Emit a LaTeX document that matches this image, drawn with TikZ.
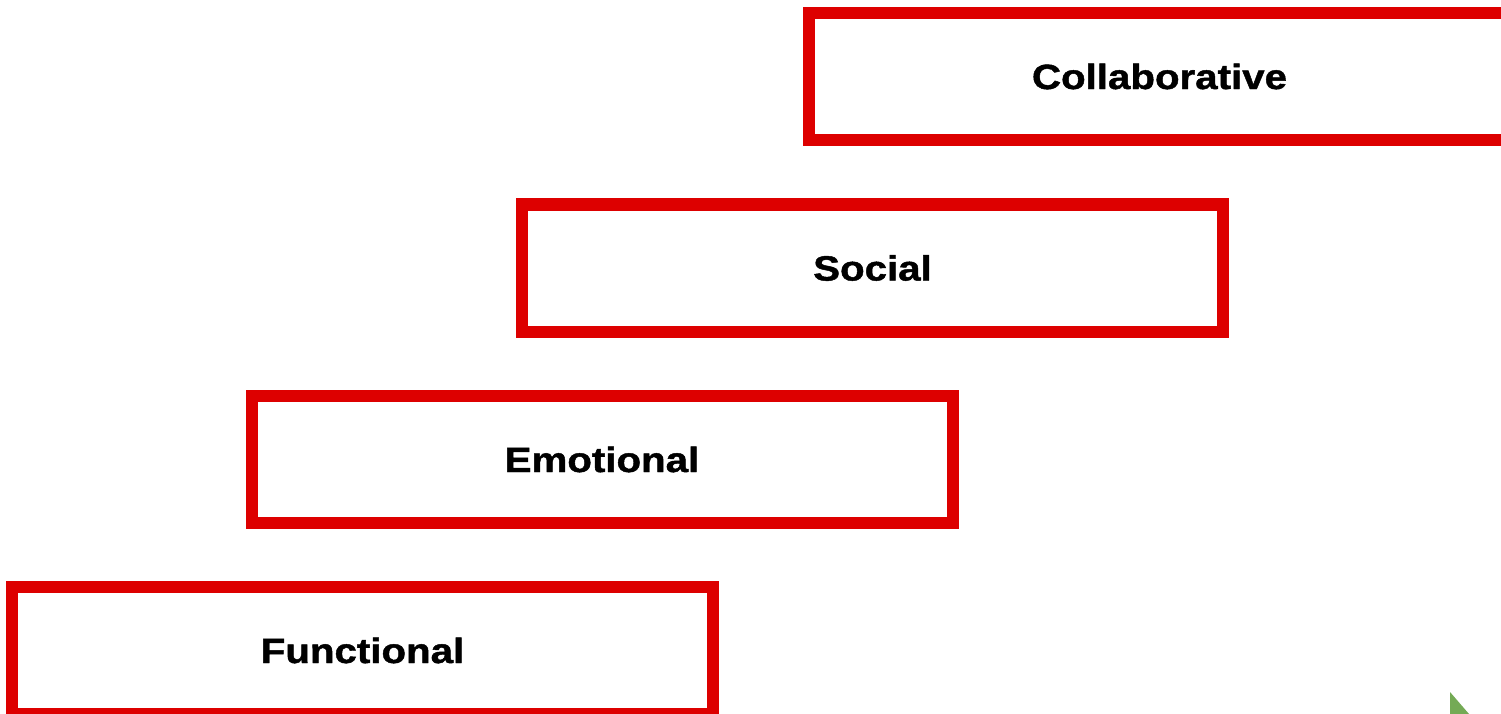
\documentclass[tikz,border=0pt]{standalone}
\usepackage{fontspec}
\setmainfont{Liberation Sans}
\newfontfamily\labfont{Liberation Sans}[FakeStretch=1.15,BoldFeatures={FakeBold=1.3}]
\definecolor{boxred}{HTML}{DD0000}
\definecolor{leaf}{HTML}{74AA55}
\tikzset{
  stepbox/.style={draw=boxred, line width=12pt, rectangle, minimum width=701pt, minimum height=127pt, inner sep=0pt,
    font=\labfont\bfseries\fontsize{35}{42}\selectfont, text=black}
}
\begin{document}
\begin{tikzpicture}[x=1pt,y=-1pt]
\useasboundingbox (0,0) rectangle (1501,714);
\clip (0,0) rectangle (1501,714);
\fill[white] (0,0) rectangle (1501,714);
\node[stepbox] (functional) at (362.5,650.5) {Functional};
\node[stepbox] (emotional) at (602,459.5) {Emotional};
\node[stepbox] (social) at (872.5,268) {Social};
\node[stepbox] (collaborative) at (1159.5,76.5) {Collaborative};
\fill[leaf] (1450,692) -- (1450,714) -- (1469,714) -- cycle;
\end{tikzpicture}
\end{document}
